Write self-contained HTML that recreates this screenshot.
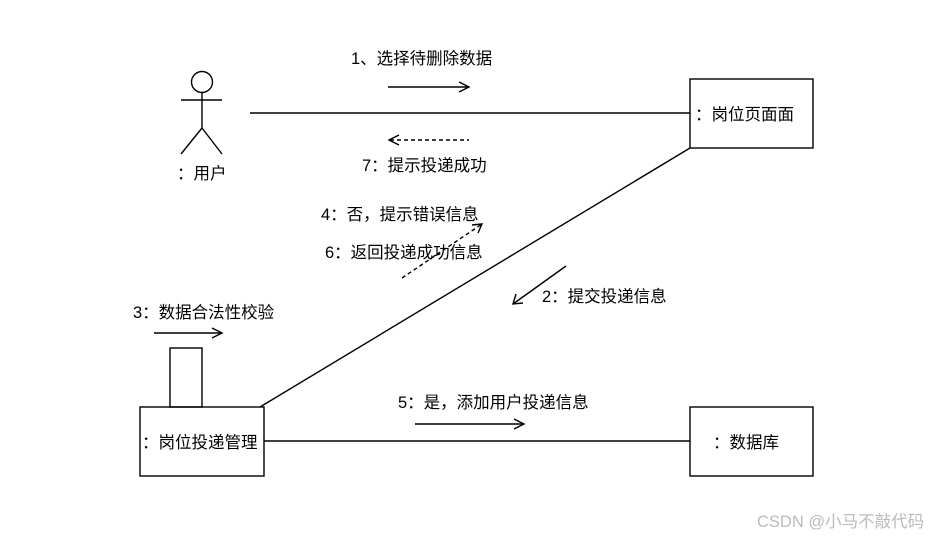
<!DOCTYPE html>
<html><head><meta charset="utf-8"><style>
body{margin:0;background:#fff;width:933px;height:536px;overflow:hidden}
svg text{font-family:"Liberation Sans","Noto Sans CJK SC",sans-serif;font-size:16.5px;fill:#000}
</style></head><body>
<svg width="933" height="536" viewBox="0 0 933 536">
<g stroke="#000" stroke-width="1.4" fill="none">
<circle cx="202" cy="82" r="10.5"/>
<line x1="202" y1="93" x2="202" y2="128"/>
<line x1="181" y1="100" x2="222" y2="100"/>
<line x1="202" y1="128" x2="181" y2="154"/>
<line x1="202" y1="128" x2="222" y2="154"/>
<rect x="690" y="79" width="123" height="69"/>
<rect x="690" y="407" width="123" height="69"/>
<rect x="140" y="407" width="124" height="69"/>
<rect x="170" y="348" width="32" height="59"/>
<line x1="250" y1="113" x2="690" y2="113"/>
<line x1="264" y1="441" x2="690" y2="441"/>
<line x1="260" y1="407" x2="690" y2="148"/>
<line x1="388" y1="87" x2="469" y2="87"/><polyline points="459,82 469,87 459,92"/>
<line x1="390" y1="140" x2="469" y2="140" stroke-dasharray="4,3"/><polyline points="399,135 389,140 399,145"/>
<line x1="402" y1="278" x2="482" y2="224" stroke-dasharray="4,3"/><polyline points="472,225 482,224 478,233"/>
<line x1="566" y1="266" x2="513" y2="304"/><polyline points="516,294 513,304 523,303"/>
<line x1="154" y1="333" x2="222" y2="333"/><polyline points="212,328 222,333 212,338"/>
<line x1="415" y1="424" x2="524" y2="424"/><polyline points="514,419 524,424 514,429"/>
</g>
<text x="351" y="64">1、选择待删除数据</text>
<text x="362" y="171">7：提示投递成功</text>
<text x="177" y="179">：用户</text>
<text x="321" y="220">4：否，提示错误信息</text>
<text x="325" y="258">6：返回投递成功信息</text>
<text x="542" y="302">2：提交投递信息</text>
<text x="133" y="318">3：数据合法性校验</text>
<text x="398" y="408">5：是，添加用户投递信息</text>
<text x="695" y="120">：岗位页面面</text>
<text x="142" y="448">：岗位投递管理</text>
<text x="713" y="448">：数据库</text>
<text x="757" y="527" style="font-size:16.5px;fill:#bbb">CSDN @小马不敲代码</text>
</svg>
</body></html>
